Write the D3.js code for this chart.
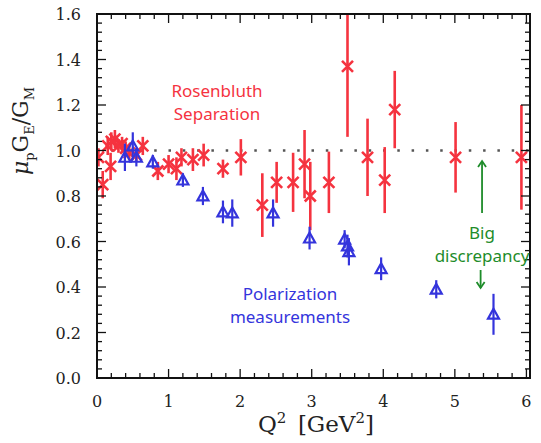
<!DOCTYPE html>
<html lang="en">
<head>
    <meta charset="UTF-8">
    <title>Proton form factor ratio</title>
    <script src="https://cdnjs.cloudflare.com/ajax/libs/d3/7.8.5/d3.min.js"></script>
    <style>
        body { margin: 0; background: #ffffff; }
        .tick-label { font-family: 'DejaVu Serif', serif; font-size: 16px; fill: #222; }
        .note { font-family: 'Noto Sans', sans-serif; font-size: 17px; }
    </style>
</head>
<body>
    <div id="chart"></div>
    <script>
        // Rosenbluth separation points (red)
        const rosenQ2  = [0.02, 0.08, 0.15, 0.19, 0.20, 0.25, 0.30, 0.35, 0.40, 0.45, 0.55, 0.64, 0.85, 1.00, 1.11, 1.18, 1.34, 1.49, 1.76, 2.01, 2.31, 2.51, 2.74, 2.90, 2.98, 3.24, 3.50, 3.78, 4.02, 4.16, 5.01, 5.93];
        const rosenVal = [0.97, 0.85, 1.02, 0.93, 1.04, 1.05, 1.02, 1.03, 1.01, 0.99, 0.98, 1.02, 0.91, 0.94, 0.92, 0.97, 0.96, 0.98, 0.92, 0.97, 0.76, 0.86, 0.86, 0.94, 0.80, 0.86, 1.37, 0.97, 0.87, 1.18, 0.97, 0.97];
        const rosenErr = [0.04, 0.06, 0.04, 0.06, 0.04, 0.04, 0.03, 0.03, 0.03, 0.03, 0.03, 0.04, 0.04, 0.04, 0.05, 0.04, 0.05, 0.05, 0.04, 0.08, 0.14, 0.09, 0.13, 0.15, 0.15, 0.135, 0.31, 0.17, 0.145, 0.17, 0.155, 0.23];

        // Polarization transfer points (blue)
        const polQ2  = [0.39, 0.50, 0.55, 0.78, 1.20, 1.48, 1.76, 1.89, 2.46, 2.97, 3.46, 3.50, 3.52, 3.97, 4.74, 5.54];
        const polVal = [0.97, 1.02, 0.97, 0.95, 0.87, 0.80, 0.73, 0.725, 0.725, 0.615, 0.61, 0.58, 0.555, 0.48, 0.39, 0.28];
        const polErr = [0.06, 0.06, 0.04, 0.03, 0.03, 0.04, 0.05, 0.06, 0.06, 0.05, 0.04, 0.05, 0.06, 0.05, 0.04, 0.09];

        const xTicks = [0, 1, 2, 3, 4, 5, 6];
        const yTicks = [0.0, 0.2, 0.4, 0.6, 0.8, 1.0, 1.2, 1.4, 1.6];

        const width = 541, height = 443;
        const margin = {top: 14, right: 11, bottom: 65, left: 97};

        const svg = d3.select("#chart").append("svg")
            .attr("width", width)
            .attr("height", height);

        const x = d3.scaleLinear().domain([0, 6.05]).range([margin.left, width - margin.right]);
        const y = d3.scaleLinear().domain([0, 1.6]).range([height - margin.bottom, margin.top]);

        const x0 = x.range()[0], x1 = x.range()[1];
        const y0 = y.range()[0], y1 = y.range()[1];

        const red = "#f5333f", blue = "#3434dc", green = "#1e8c2a";

        // clip for the points
        svg.append("clipPath").attr("id", "plotclip")
            .append("rect").attr("x", x0).attr("y", y1).attr("width", x1 - x0).attr("height", y0 - y1);

        // dotted reference line at 1
        svg.append("line")
            .attr("x1", x0).attr("x2", x1)
            .attr("y1", y(1)).attr("y2", y(1))
            .attr("stroke", "#555")
            .attr("stroke-width", 2.5)
            .attr("stroke-dasharray", "2.5,11.8");

        const plot = svg.append("g").attr("clip-path", "url(#plotclip)");

        // red points
        const rosen = rosenQ2.map((q, i) => ({q: q, v: rosenVal[i], e: rosenErr[i]}));
        const rg = plot.append("g").attr("stroke", red).attr("stroke-width", 2.6).attr("fill", "none");
        rg.selectAll(".rbar").data(rosen).enter().append("line")
            .attr("x1", d => x(d.q)).attr("x2", d => x(d.q))
            .attr("y1", d => y(d.v - d.e)).attr("y2", d => y(d.v + d.e));
        const s = 5.5;
        rg.selectAll(".rx").data(rosen).enter().append("path")
            .attr("d", d => {
                const cx = x(d.q), cy = y(d.v);
                return `M${cx - s},${cy - s}L${cx + s},${cy + s}M${cx - s},${cy + s}L${cx + s},${cy - s}`;
            });

        // blue points
        const pol = polQ2.map((q, i) => ({q: q, v: polVal[i], e: polErr[i]}));
        const bg = plot.append("g").attr("stroke", blue).attr("stroke-width", 2.2).attr("fill", "none");
        bg.selectAll(".bbar").data(pol).enter().append("line")
            .attr("x1", d => x(d.q)).attr("x2", d => x(d.q))
            .attr("y1", d => y(d.v - d.e)).attr("y2", d => y(d.v + d.e));
        const t = 5.5;
        bg.selectAll(".tri").data(pol).enter().append("path")
            .attr("d", d => {
                const cx = x(d.q), cy = y(d.v);
                return `M${cx},${cy - t}L${cx + t},${cy + t * 0.8}L${cx - t},${cy + t * 0.8}Z`;
            });

        // ticks on all four sides, pointing in
        const xMinor = d3.range(0, 6.05, 0.2);
        const yMinor = d3.range(0, 1.601, 0.04);
        const tg = svg.append("g").attr("stroke", "#111").attr("stroke-width", 1.3);
        xMinor.forEach(v => {
            const major = Math.abs(v - Math.round(v)) < 1e-6;
            const len = major ? 9 : 5;
            tg.append("line").attr("x1", x(v)).attr("x2", x(v)).attr("y1", y0).attr("y2", y0 - len);
            tg.append("line").attr("x1", x(v)).attr("x2", x(v)).attr("y1", y1).attr("y2", y1 + len);
        });
        yMinor.forEach(v => {
            const major = Math.abs(v * 5 - Math.round(v * 5)) < 1e-6;
            const len = major ? 9 : 5;
            tg.append("line").attr("y1", y(v)).attr("y2", y(v)).attr("x1", x0).attr("x2", x0 + len);
            tg.append("line").attr("y1", y(v)).attr("y2", y(v)).attr("x1", x1).attr("x2", x1 - len);
        });

        // frame
        svg.append("rect")
            .attr("x", x0).attr("y", y1)
            .attr("width", x1 - x0).attr("height", y0 - y1)
            .attr("fill", "none").attr("stroke", "#111").attr("stroke-width", 2);

        // tick labels
        svg.selectAll(".xl").data(xTicks).enter().append("text")
            .attr("class", "tick-label")
            .attr("x", d => x(d)).attr("y", y0 + 29)
            .attr("text-anchor", "middle")
            .text(d => d);
        svg.selectAll(".yl").data(yTicks).enter().append("text")
            .attr("class", "tick-label")
            .attr("x", x0 - 16).attr("y", d => y(d) + 6)
            .attr("text-anchor", "end")
            .text(d => d.toFixed(1));

        // axis titles
        const xt = svg.append("text")
            .attr("x", 316).attr("y", 432)
            .attr("text-anchor", "middle")
            .style("font-family", "'DejaVu Serif', serif")
            .style("font-size", "23px")
            .attr("fill", "#222");
        xt.append("tspan").text("Q");
        xt.append("tspan").attr("dy", -9).style("font-size", "15px").text("2");
        xt.append("tspan").attr("dy", 9).text("\u2002[GeV");
        xt.append("tspan").attr("dy", -9).style("font-size", "15px").text("2");
        xt.append("tspan").attr("dy", 9).text("]");

        const yt = svg.append("text")
            .attr("transform", "translate(28,131) rotate(-90)")
            .attr("text-anchor", "middle")
            .style("font-family", "'DejaVu Serif', serif")
            .style("font-size", "22px")
            .attr("fill", "#222");
        yt.append("tspan").style("font-style", "italic").text("\u03bc");
        yt.append("tspan").attr("dy", 6).style("font-size", "13px").text("p");
        yt.append("tspan").attr("dy", -6).text("G");
        yt.append("tspan").attr("dy", 6).style("font-size", "13px").text("E");
        yt.append("tspan").attr("dy", -6).text("/G");
        yt.append("tspan").attr("dy", 6).style("font-size", "13px").text("M");

        // annotations
        const note = (lines, cx, ys, color) => lines.forEach((l, i) =>
            svg.append("text").attr("class", "note")
                .attr("x", cx).attr("y", ys[i])
                .attr("text-anchor", "middle")
                .attr("fill", color).text(l));
        note(["Rosenbluth", "Separation"], 217, [97, 120], red);
        note(["Polarization", "measurements"], 290, [300, 323], blue);
        note(["Big", "discrepancy"], 482, [239, 262], green);

        // arrows
        const arrow = (xa, ya, yb) => {
            svg.append("line").attr("x1", xa).attr("x2", xa).attr("y1", ya).attr("y2", yb)
                .attr("stroke", green).attr("stroke-width", 1.8);
            const dir = yb < ya ? 1 : -1;
            svg.append("path")
                .attr("d", `M${xa - 4},${yb + dir * 6}L${xa},${yb}L${xa + 4},${yb + dir * 6}`)
                .attr("stroke", green).attr("stroke-width", 1.8).attr("fill", "none");
        };
        arrow(x(5.38), 213, 161);
        arrow(x(5.36), 270, 288);
    </script>
</body>
</html>
